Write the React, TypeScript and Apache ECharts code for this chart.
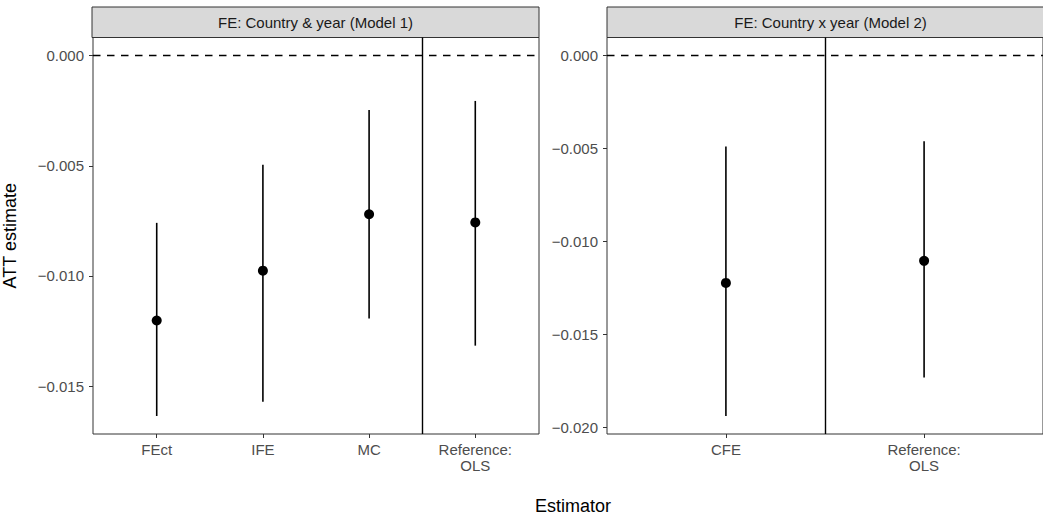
import React, { useEffect, useRef } from "react";
import * as echarts from "echarts";

const panelTitles = ["FE: Country & year (Model 1)", "FE: Country x year (Model 2)"];

const estimators1 = ["FEct", "IFE", "MC", "Reference:\nOLS"];
const att1 = [-0.01202, -0.00976, -0.0072, -0.00757];
const lo1 = [-0.01635, -0.0157, -0.01193, -0.01316];
const hi1 = [-0.00759, -0.00496, -0.00247, -0.00206];

const estimators2 = ["CFE", "Reference:\nOLS"];
const att2 = [-0.01224, -0.01105];
const lo2 = [-0.0194, -0.01733];
const hi2 = [-0.00489, -0.00461];

const yTicks1 = [0, -0.005, -0.01, -0.015];
const yTicks2 = [0, -0.005, -0.01, -0.015, -0.02];

const separator1 = 3.5;
const separator2 = 1.5;

const FONT = "'Liberation Sans', Arial, Helvetica, sans-serif";

function yRange(lo: number[], hi: number[]) {
  const mn = Math.min(0, ...lo);
  const mx = Math.max(0, ...hi);
  const pad = (mx - mn) * 0.05;
  return [mn - pad, mx + pad];
}

function fmtY(v: number) {
  if (Math.abs(v) < 1e-12) return "0.000";
  return (v < 0 ? "\u2212" : "") + Math.abs(v).toFixed(3);
}

export default function App() {
  const ref = useRef<HTMLDivElement>(null);
  useEffect(() => {
    document.body.style.margin = "0";
    const chart = echarts.init(ref.current!, null, { renderer: "svg" });
    const G = [
      { left: 92, top: 37.5, width: 447, height: 396.5 },
      { left: 607, top: 37.5, width: 447, height: 396.5 },
    ];
    const r1 = yRange(lo1, hi1);
    const r2 = yRange(lo2, hi2);
    const xPos1 = estimators1.map((_, i) => i + 1);
    const xPos2 = estimators2.map((_, i) => i + 1);

    const xAxisBase = (labels: string[], pos: number[]) => ({
      type: "value",
      position: "bottom",
      min: 0.4,
      max: labels.length + 0.6,
      axisLine: { show: false, onZero: false },
      splitLine: { show: false },
      axisTick: {
        show: true,
        inside: false,
        customValues: pos,
        length: 4,
        lineStyle: { color: "#333333", width: 1 },
      },
      axisLabel: {
        customValues: pos,
        margin: 7,
        color: "#4D4D4D",
        fontSize: 15,
        fontFamily: FONT,
        lineHeight: 16,
        align: "center",
        formatter: (v: number) => labels[Math.round(v) - 1] ?? "",
      },
    });
    const yAxisBase = (r: number[], ticks: number[]) => ({
      type: "value",
      position: "left",
      min: r[0],
      max: r[1],
      axisLine: { show: false, onZero: false },
      splitLine: { show: false },
      axisTick: {
        show: true,
        inside: false,
        customValues: ticks,
        length: 4,
        lineStyle: { color: "#333333", width: 1 },
      },
      axisLabel: {
        customValues: ticks,
        margin: 9,
        color: "#4D4D4D",
        fontSize: 15,
        fontFamily: FONT,
        formatter: fmtY,
      },
    });

    const errRender = (params: any, api: any) => {
      const x = api.value(0);
      const p1 = api.coord([x, api.value(1)]);
      const p2 = api.coord([x, api.value(2)]);
      return {
        type: "line",
        shape: { x1: p1[0], y1: p1[1], x2: p2[0], y2: p2[1] },
        style: { stroke: "#000000", lineWidth: 1.6 },
      };
    };

    const markLines = (sep: number) => ({
      silent: true,
      symbol: "none",
      label: { show: false },
      data: [
        { xAxis: sep, lineStyle: { type: "solid", color: "#000000", width: 1.4 } },
        { yAxis: 0, lineStyle: { type: [7.5, 6.5], color: "#000000", width: 1.4 } },
      ],
    });

    const strip = (g: any, title: string) => ({
      type: "group",
      children: [
        {
          type: "rect",
          shape: { x: g.left, y: 7, width: g.width, height: 30.5 },
          style: { fill: "#D9D9D9", stroke: "#333333", lineWidth: 1 },
        },
        {
          type: "text",
          x: g.left + g.width / 2,
          y: 22.5,
          style: {
            text: title,
            fill: "#1A1A1A",
            fontSize: 15,
            fontFamily: FONT,
            align: "center",
            verticalAlign: "middle",
          },
        },
      ],
    });

    chart.setOption({
      animation: false,
      backgroundColor: "#FFFFFF",
      grid: G.map((g) => ({
        ...g,
        show: true,
        borderColor: "#333333",
        borderWidth: 1,
        backgroundColor: "#FFFFFF",
        containLabel: false,
      })),
      xAxis: [
        { ...xAxisBase(estimators1, xPos1), gridIndex: 0 },
        { ...xAxisBase(estimators2, xPos2), gridIndex: 1 },
      ],
      yAxis: [
        {
          ...yAxisBase(r1, yTicks1),
          gridIndex: 0,
          name: "ATT estimate",
          nameLocation: "middle",
          nameRotate: 90,
          nameGap: 74,
          nameTextStyle: { color: "#000000", fontSize: 18, fontFamily: FONT },
        },
        { ...yAxisBase(r2, yTicks2), gridIndex: 1 },
      ],
      series: [
        {
          type: "custom",
          xAxisIndex: 0,
          yAxisIndex: 0,
          renderItem: errRender,
          encode: { x: 0, y: [1, 2] },
          data: xPos1.map((x, i) => [x, lo1[i], hi1[i]]),
          z: 3,
        },
        {
          type: "scatter",
          xAxisIndex: 0,
          yAxisIndex: 0,
          symbol: "circle",
          symbolSize: 10,
          itemStyle: { color: "#000000", opacity: 1 },
          data: xPos1.map((x, i) => [x, att1[i]]),
          markLine: markLines(separator1),
          z: 4,
        },
        {
          type: "custom",
          xAxisIndex: 1,
          yAxisIndex: 1,
          renderItem: errRender,
          encode: { x: 0, y: [1, 2] },
          data: xPos2.map((x, i) => [x, lo2[i], hi2[i]]),
          z: 3,
        },
        {
          type: "scatter",
          xAxisIndex: 1,
          yAxisIndex: 1,
          symbol: "circle",
          symbolSize: 10,
          itemStyle: { color: "#000000", opacity: 1 },
          data: xPos2.map((x, i) => [x, att2[i]]),
          markLine: markLines(separator2),
          z: 4,
        },
      ],
      graphic: [
        strip(G[0], panelTitles[0]),
        strip(G[1], panelTitles[1]),
        {
          type: "text",
          x: 573,
          y: 506,
          style: {
            text: "Estimator",
            fill: "#000000",
            fontSize: 18,
            fontFamily: FONT,
            align: "center",
            verticalAlign: "middle",
          },
        },
      ],
    });
    return () => chart.dispose();
  }, []);
  return <div ref={ref} style={{ width: 1043, height: 518 }} />;
}
